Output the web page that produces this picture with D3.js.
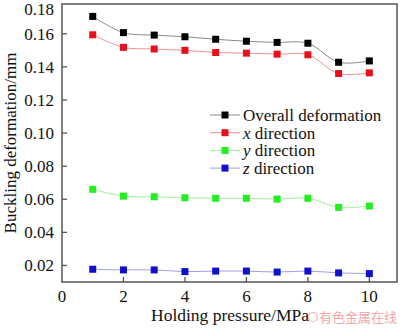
<!DOCTYPE html>
<html><head><meta charset="utf-8">
<script src="https://cdn.jsdelivr.net/npm/d3@7"></script>
<style>body{margin:0;background:#fff}svg{display:block}</style>
</head><body>
<svg id="c" width="400" height="328"></svg>
<script>
const pressure = [1,2,3,4,5,6,7,8,9,10];
const overall = [0.1705,0.1607,0.1592,0.1582,0.1567,0.1555,0.1548,0.1543,0.1428,0.1436];
const xDir = [0.1594,0.1518,0.1508,0.1500,0.1487,0.1483,0.1477,0.1473,0.1360,0.1364];
const yDir = [0.0660,0.0619,0.0615,0.0609,0.0606,0.0606,0.0601,0.0606,0.0551,0.0559];
const zDir = [0.0177,0.0173,0.0173,0.0163,0.0166,0.0166,0.0160,0.0166,0.0155,0.0151];
const seriesNames = ["Overall deformation","x direction","y direction","z direction"];
const xTicks = [0,2,4,6,8,10];
const yTicks = [0.02,0.04,0.06,0.08,0.10,0.12,0.14,0.16,0.18];
const xTitle = "Holding pressure/MPa";
const yTitle = "Buckling deformation/mm";
const watermark = "有色金属在线";

const series = [
  {name: seriesNames[0], vals: overall, mark: "#000000", line: "#8a8a8a", italic: null},
  {name: seriesNames[1], vals: xDir, mark: "#e8101a", line: "#f09090", italic: "x"},
  {name: seriesNames[2], vals: yDir, mark: "#22ee22", line: "#a0eea0", italic: "y"},
  {name: seriesNames[3], vals: zDir, mark: "#1010cc", line: "#a0a0e4", italic: "z"}
];

const L = 62, R = 397, T = 4, B = 282;
const svg = d3.select("#c");
const x = d3.scaleLinear().domain([0, 10.9]).range([L, R]);
const y = d3.scaleLinear().domain([0.01, 0.178]).range([B, T]);
const font = "'Liberation Serif','Times New Roman',serif";
const axisCol = "#555";

svg.append("rect").attr("x", L).attr("y", T).attr("width", R-L).attr("height", B-T)
  .attr("fill", "none").attr("stroke", axisCol).attr("stroke-width", 1.5);

yTicks.forEach(v => {
  const yy = y(v);
  if (yy >= T) {
    svg.append("line").attr("x1", L).attr("x2", L+5).attr("y1", yy).attr("y2", yy)
      .attr("stroke", axisCol).attr("stroke-width", 1.3);
  }
  svg.append("text").attr("x", L-8).attr("y", Math.max(yy, 9)).attr("dy", "0.35em")
    .attr("text-anchor", "end").attr("font-family", font).attr("font-size", 17)
    .attr("fill", "#111").text(v.toFixed(2));
});
xTicks.forEach(v => {
  const xx = x(v);
  if (v > 0) svg.append("line").attr("x1", xx).attr("x2", xx).attr("y1", B).attr("y2", B-5)
    .attr("stroke", axisCol).attr("stroke-width", 1.3);
  svg.append("text").attr("x", xx).attr("y", B+20).attr("text-anchor", "middle")
    .attr("font-family", font).attr("font-size", 17).attr("fill", "#111").text(v);
});

svg.append("text").attr("x", 230).attr("y", 321).attr("text-anchor", "middle")
  .attr("font-family", font).attr("font-size", 17.5).attr("fill", "#111").text(xTitle);
svg.append("text").attr("transform", `translate(16,${(T+B)/2}) rotate(-90)`)
  .attr("text-anchor", "middle").attr("font-family", font).attr("font-size", 17)
  .attr("fill", "#111").text(yTitle);

const lineGen = d3.line().x((d,i) => x(pressure[i])).y(d => y(d)).curve(d3.curveCatmullRom.alpha(0.5));
series.forEach(s => {
  svg.append("path").attr("d", lineGen(s.vals)).attr("fill", "none")
    .attr("stroke", s.line).attr("stroke-width", 1);
  svg.selectAll(null).data(s.vals).enter().append("rect")
    .attr("x", (d,i) => x(pressure[i]) - 3.5).attr("y", d => y(d) - 3.5)
    .attr("width", 7).attr("height", 7).attr("fill", s.mark);
});

const lx = 210, ly = 115, dy = 17.7;
series.forEach((s, i) => {
  const yy = ly + i*dy;
  svg.append("line").attr("x1", lx).attr("x2", lx+30).attr("y1", yy).attr("y2", yy)
    .attr("stroke", s.line).attr("stroke-width", 1);
  svg.append("rect").attr("x", lx+15-3.5).attr("y", yy-3.5).attr("width", 7).attr("height", 7).attr("fill", s.mark);
  const t = svg.append("text").attr("x", lx+33).attr("y", yy).attr("dy", "0.35em")
    .attr("font-family", font).attr("font-size", 17).attr("fill", "#111");
  if (s.italic) {
    t.append("tspan").attr("font-style", "italic").text(s.italic);
    t.append("tspan").text(s.name.slice(1));
  } else {
    t.text(s.name);
  }
});

svg.append("circle").attr("cx", 313).attr("cy", 317).attr("r", 4.5).attr("fill", "none")
  .attr("stroke", "#f2b0b0").attr("stroke-width", 1.2);
svg.append("text").attr("x", 319).attr("y", 322).attr("font-family", "'Noto Sans CJK SC',sans-serif")
  .attr("font-size", 13).attr("fill", "#f0a8a8").text(watermark);
</script>
</body></html>
